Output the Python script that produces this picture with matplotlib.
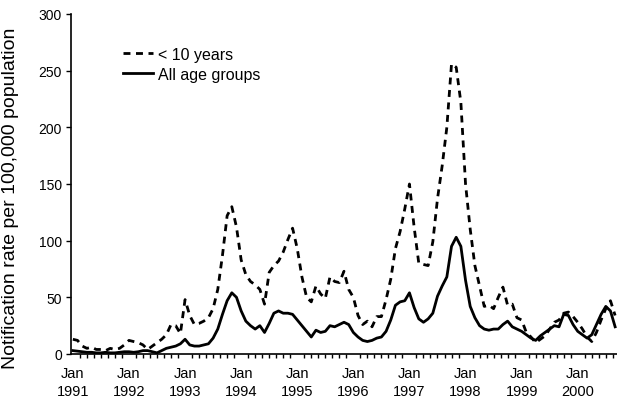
import numpy as np
import matplotlib
matplotlib.use("Agg")
import matplotlib.pyplot as plt

plt.rcParams['font.family'] = ['Liberation Sans', 'DejaVu Sans']

# Monthly notification rates, Jan 1991 - Sep 2000
under_10 = [13, 12, 7, 5, 6, 4, 4, 3, 5, 4, 5, 8,
            12, 11, 10, 8, 4, 7, 10, 13, 17, 26, 25, 18,
            48, 34, 26, 27, 29, 32, 40, 57, 87, 122, 130, 112,
            83, 70, 64, 61, 57, 44, 72, 78, 82, 90, 101, 111,
            93, 68, 50, 46, 60, 53, 49, 68, 64, 63, 73, 57,
            50, 34, 26, 29, 24, 33, 33, 48, 66, 93, 108, 128,
            150, 112, 80, 79, 78, 99, 137, 166, 200, 256, 253, 222,
            150, 110, 78, 60, 42, 43, 40, 50, 59, 43, 44, 32,
            30, 19, 15, 10, 13, 16, 22, 28, 30, 36, 37, 33,
            28, 22, 15, 11, 19, 30, 40, 47, 34]
all_ages = [3, 2.5, 2, 1.5, 1.5, 1, 1, 1.5, 1, 1, 1.5, 2,
            2, 1.5, 2, 3, 3, 2, 1, 3, 5, 6, 7, 9,
            13, 8, 7, 7, 8, 9, 14, 22, 35, 47, 54, 50,
            38, 29, 25, 22, 25, 19, 27, 36, 38, 36, 36, 35,
            30, 25, 20, 15, 21, 19, 20, 25, 24, 26, 28, 26,
            19, 15, 12, 11, 12, 14, 15, 20, 30, 43, 46, 47,
            54, 41, 31, 28, 31, 36, 51, 60, 68, 95, 103, 95,
            65, 42, 32, 25, 22, 21, 22, 22, 26, 29, 24, 22,
            20, 17, 14, 12, 16, 19, 22, 25, 24, 35, 34, 26,
            20, 17, 14, 17, 26, 35, 42, 38, 24]
years = [1991, 1992, 1993, 1994, 1995, 1996, 1997, 1998, 1999, 2000]

months = np.arange(len(all_ages))

fig = plt.figure(figsize=(6.17, 4.02), dpi=100)
ax = fig.add_axes([71 / 617, 47 / 402, 546 / 617, 340 / 402])

ax.plot(months, under_10, color='black', lw=2.0, linestyle=(0, (2.5, 2)),
        label='< 10 years')
ax.plot(months, all_ages, color='black', lw=2.0, label='All age groups')

ax.set_xlim(-0.4, 116.4)
ax.set_ylim(0, 300)
ax.set_yticks(np.arange(0, 301, 50))
ax.set_xticks([12 * i for i in range(len(years))])
ax.set_xticklabels([f'Jan\n{y}' for y in years], linespacing=1.35)
ax.set_xticks(np.arange(0, 117, 1.5), minor=True)

for side in ['top', 'right']:
    ax.spines[side].set_visible(False)
for side in ['left', 'bottom']:
    ax.spines[side].set_linewidth(1.2)

ax.tick_params(axis='y', which='major', direction='out', length=3.5,
               width=1, labelsize=10, pad=3)
ax.tick_params(axis='x', which='major', length=0, labelsize=10.5, pad=9)
ax.tick_params(axis='x', which='minor', direction='out', length=3,
               width=1)

ax.set_ylabel('Notification rate per 100,000 population', fontsize=14)
ax.yaxis.set_label_coords(-0.095, 0.46)

ax.legend(loc='upper left', bbox_to_anchor=(123 / 617, 1 - 48 / 402),
          bbox_transform=fig.transFigure, frameon=False, fontsize=11.5,
          handlelength=1.9, handletextpad=0.3, labelspacing=0.3,
          borderpad=0, borderaxespad=0)

fig.savefig('out.png', dpi=100)
